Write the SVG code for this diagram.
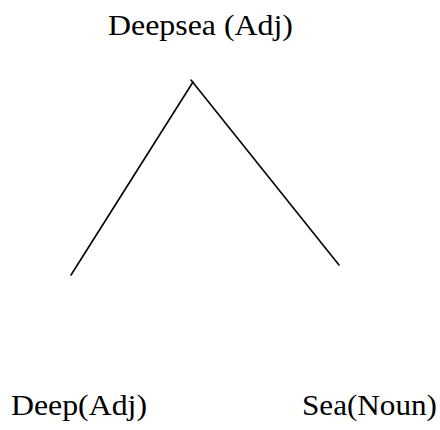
<svg xmlns="http://www.w3.org/2000/svg" width="440" height="430" viewBox="0 0 440 430">
  <style>
    .label { font-family: "Liberation Serif", "Times New Roman", serif; font-size: 30px; fill: #000; }
    .edge { stroke: #000; stroke-width: 1.6; fill: none; stroke-linecap: round; }
  </style>
  <rect width="440" height="430" fill="#fff"/>
  <g id="edges">
    <line class="edge" x1="193" y1="82" x2="71" y2="275"/>
    <line class="edge" x1="191" y1="80" x2="339" y2="265"/>
  </g>
  <g id="node-deepsea">
    <text class="label" x="108" y="35" textLength="185" lengthAdjust="spacingAndGlyphs">Deepsea (Adj)</text>
  </g>
  <g id="node-deep">
    <text class="label" x="11" y="415" textLength="136" lengthAdjust="spacingAndGlyphs">Deep(Adj)</text>
  </g>
  <g id="node-sea">
    <text class="label" x="302" y="415" textLength="135" lengthAdjust="spacingAndGlyphs">Sea(Noun)</text>
  </g>
</svg>
